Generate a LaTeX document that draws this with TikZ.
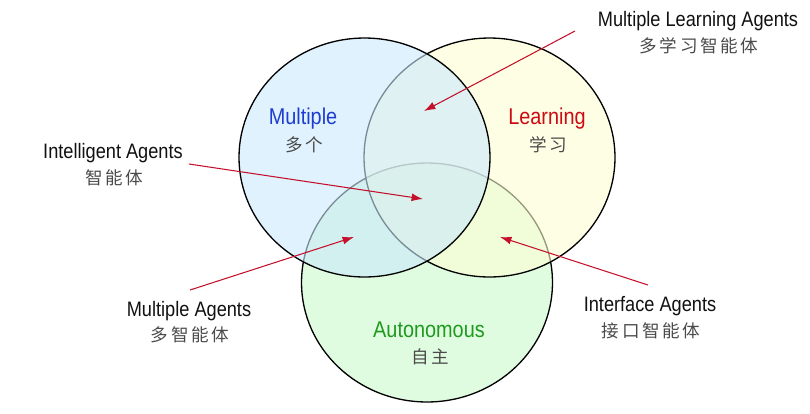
\documentclass[tikz,border=0pt]{standalone}
\usepackage{fontspec}
\setmainfont{Liberation Sans}[FakeStretch=0.87]
\newfontfamily\cjk{Noto Sans CJK SC}[LetterSpace=15]
\usetikzlibrary{arrows.meta,positioning,shapes.geometric}
\definecolor{setblue}{HTML}{CBE9FC}
\definecolor{setyellow}{HTML}{FDFDD2}
\definecolor{setgreen}{HTML}{CBFACB}
\definecolor{tagblue}{HTML}{1E3CD2}
\definecolor{tagred}{HTML}{CC0A14}
\definecolor{taggreen}{HTML}{1E9A1E}
\definecolor{ink}{HTML}{111111}
\definecolor{zhgray}{HTML}{4A4A4A}
\definecolor{linkred}{HTML}{C4102A}

\begin{document}
\begin{tikzpicture}[x=0.02cm,y=-0.02cm,
  set/.style={ellipse,draw=black,line width=.75pt,fill opacity=.6,minimum width=5.02cm,minimum height=4.78cm,inner sep=0pt},
  tag/.style={font=\fontsize{13}{15}\selectfont,inner sep=0pt,anchor=base},
  lbl/.style={font=\fontsize{11.9}{14}\selectfont,text=ink,inner sep=0pt,anchor=base},
  zh/.style={font=\fontsize{10}{12}\selectfont\cjk,text=zhgray,inner sep=0pt},
  link/.style={-{Latex[length=6.5pt,width=4.5pt]},linkred,line width=.6pt}]
\useasboundingbox (0,0) rectangle (810,413);
% the three sets, bottom one first
\node[set,fill=setgreen] (autonomous) at (427,282.5) {};
\node[set,fill=setyellow] (learning) at (489.5,157.5) {};
\node[set,fill=setblue] (multiple) at (364.5,157.5) {};
% set names
\foreach \nm/\x/\y/\c/\en/\zh in {multiple/303/124.7/tagblue/Multiple/多个,learning/547/124.5/tagred/Learning/学习,autonomous/429/337.3/taggreen/Autonomous/自主}{
\node[tag,text=\c] (\nm-en) at (\x,\y) {\en};
\node[zh] (\nm-zh) at (\x+1,\y+20) {\zh};}
% agent kinds and where they point
\foreach \nm/\x/\y/\en/\zh/\fx/\fy/\tx/\ty in {mla/698/26.7/Multiple Learning Agents/多学习智能体/575/31/424/111,ia/113/158.3/Intelligent Agents/智能体/189/164/423/199,ma/189/316/Multiple Agents/多智能体/190/290/354/237,ifa/650/311.7/Interface Agents/接口智能体/648/285/500/237}{
\node[lbl] (\nm) at (\x,\y) {\en};
\node[zh] (\nm-zh) at (\x+1,\y+19) {\zh};
\coordinate (\nm-from) at (\fx,\fy);
\coordinate (\nm-to) at (\tx,\ty);
\draw[link] (\nm-from) -- (\nm-to);}
\end{tikzpicture}
\end{document}
